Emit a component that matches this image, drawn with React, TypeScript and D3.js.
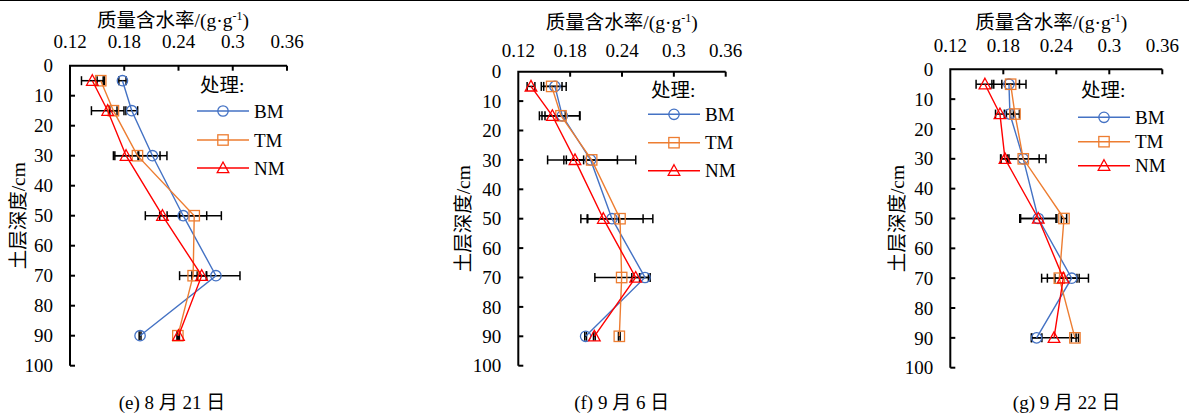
import * as d3 from "d3";

const depths = [5, 15, 30, 50, 70, 90];
const yTicks = [0, 10, 20, 30, 40, 50, 60, 70, 80, 90, 100];
const xTicks = [0.12, 0.18, 0.24, 0.3, 0.36];
const seriesNames = ["BM", "TM", "NM"];
const seriesColors = ["#4472C4", "#ED7D31", "#FF0000"];

// (e) 8月21日
const bmE = [0.178, 0.1883, 0.2112, 0.2452, 0.2814, 0.1975];
const tmE = [0.154, 0.168, 0.1946, 0.2574, 0.2562, 0.2393];
const nmE = [0.1447, 0.1617, 0.182, 0.2223, 0.2657, 0.24];
const bmErrE = [0.004, 0.0065, 0.016, 0.026, 0.0266, 0.001];
const tmErrE = [0.004, 0.004, 0.025, 0.03, 0.015, 0.001];
const nmErrE = [0.012, 0.018, 0.014, 0.019, 0.005, 0.001];

// (f) 9月6日
const bmF = [0.1624, 0.1709, 0.2037, 0.2284, 0.2666, 0.1979];
const tmF = [0.1586, 0.1694, 0.2049, 0.2377, 0.2396, 0.2369];
const nmF = [0.1347, 0.1594, 0.1856, 0.2184, 0.2558, 0.208];
const bmErrF = [0.013, 0.02, 0.031, 0.036, 0.006, 0.001];
const tmErrF = [0.012, 0.022, 0.051, 0.038, 0.031, 0.001];
const nmErrF = [0.0045, 0.015, 0.01, 0.018, 0.0045, 0.001];

// (g) 9月22日
const bmG = [0.1864, 0.1875, 0.2026, 0.2196, 0.2574, 0.2177];
const tmG = [0.1883, 0.1932, 0.2026, 0.2487, 0.2434, 0.2611];
const nmG = [0.1592, 0.1762, 0.1819, 0.2196, 0.2479, 0.2374];
const bmErrG = [0.0193, 0.004, 0.0257, 0.021, 0.019, 0.006];
const tmErrG = [0.01, 0.005, 0.018, 0.003, 0.02, 0.004];
const nmErrG = [0.01, 0.005, 0.0045, 0.02, 0.018, 0.025];

const serif = "'Liberation Serif', 'Times New Roman', 'Noto Sans CJK SC', serif";

const panels = [
  {
    caption: "(e) 8 月 21 日",
    left: 70, top: 65.7, width: 217, height: 300,
    titleX: 173, titleY: 20, tickY: 41.7, yTitleX: 18, captionX: 172,
    legX: 197, legHeadY: 85, legY: [111, 140, 168],
    values: [bmE, tmE, nmE], errors: [bmErrE, tmErrE, nmErrE],
  },
  {
    caption: "(f) 9 月 6 日",
    left: 518.3, top: 71.7, width: 207.4, height: 294,
    titleX: 621.7, titleY: 21.7, tickY: 50, yTitleX: 463, captionX: 621.7,
    legX: 648, legHeadY: 90, legY: [114.3, 142.7, 170.7],
    values: [bmF, tmF, nmF], errors: [bmErrF, tmErrF, nmErrF],
  },
  {
    caption: "(g) 9 月 22 日",
    left: 950.3, top: 69.3, width: 212, height: 298.4,
    titleX: 1051.3, titleY: 21.7, tickY: 45.7, yTitleX: 896.7, captionX: 1066.7,
    legX: 1078, legHeadY: 90, legY: [117.3, 141.7, 165.7],
    values: [bmG, tmG, nmG], errors: [bmErrG, tmErrG, nmErrG],
  },
];

const Marker = ({ i, x, y, color }) => {
  if (i === 0) return <circle cx={x} cy={y} r={5.2} fill="none" stroke={color} strokeWidth={1.3} />;
  if (i === 1)
    return <rect x={x - 5.2} y={y - 5.2} width={10.4} height={10.4} fill="none" stroke={color} strokeWidth={1.3} />;
  return (
    <path
      d={`M${x},${y - 6}L${x + 5.8},${y + 4.6}L${x - 5.8},${y + 4.6}Z`}
      fill="none"
      stroke={color}
      strokeWidth={1.3}
    />
  );
};

const Panel = ({ p }) => {
  const x = d3.scaleLinear().domain([0.12, 0.36]).range([p.left, p.left + p.width]);
  const y = d3.scaleLinear().domain([0, 100]).range([p.top, p.top + p.height]);
  const line = d3
    .line<number>()
    .x((d) => x(d))
    .y((_, i) => y(depths[i]));

  return (
    <g>
      {/* title */}
      <text x={p.titleX} y={p.titleY} dy="0.35em" textAnchor="middle" fontSize={19.5}>
        质量含水率/(g·g<tspan dy="-7" fontSize={12}>-1</tspan>
        <tspan dy="7">)</tspan>
      </text>
      {/* x ticks */}
      {xTicks.map((t) => (
        <g key={t}>
          <text x={x(t)} y={p.tickY} dy="0.35em" textAnchor="middle" fontSize={19}>
            {t}
          </text>
          {t > 0.12 && <line x1={x(t)} x2={x(t)} y1={p.top} y2={p.top + 5} stroke="#000" strokeWidth={2} />}
        </g>
      ))}
      {/* y ticks */}
      {yTicks.map((t) => (
        <g key={t}>
          <text x={p.left - 17} y={y(t)} dy="0.35em" textAnchor="end" fontSize={19}>
            {t}
          </text>
          {t > 0 && <line x1={p.left} x2={p.left + 5} y1={y(t)} y2={y(t)} stroke="#000" strokeWidth={2} />}
        </g>
      ))}
      <path
        d={`M${p.left},${y(100)}V${p.top}H${p.left + p.width}`}
        fill="none"
        stroke="#000"
        strokeWidth={2}
      />
      <text
        transform={`translate(${p.yTitleX},${p.top + p.height / 2}) rotate(-90)`}
        dy="0.35em"
        textAnchor="middle"
        fontSize={19.5}
      >
        土层深度/cm
      </text>
      {/* error bars */}
      {p.values.map((vals, si) =>
        vals.map((v, i) => {
          const e = p.errors[si][i];
          const yy = y(depths[i]);
          return (
            <g key={`e${si}-${i}`} stroke="#000" strokeWidth={1.5}>
              <line x1={x(v - e)} x2={x(v + e)} y1={yy} y2={yy} />
              <line x1={x(v - e)} x2={x(v - e)} y1={yy - 4.5} y2={yy + 4.5} />
              <line x1={x(v + e)} x2={x(v + e)} y1={yy - 4.5} y2={yy + 4.5} />
            </g>
          );
        })
      )}
      {/* series */}
      {p.values.map((vals, si) => (
        <g key={`s${si}`}>
          <path d={line(vals) || ""} fill="none" stroke={seriesColors[si]} strokeWidth={1.4} />
          {vals.map((v, i) => (
            <Marker key={i} i={si} x={x(v)} y={y(depths[i])} color={seriesColors[si]} />
          ))}
        </g>
      ))}
      {/* legend */}
      <text x={p.legX + 3} y={p.legHeadY} dy="0.35em" fontSize={19.5}>
        处理:
      </text>
      {seriesNames.map((n, si) => (
        <g key={n}>
          <line
            x1={p.legX}
            x2={p.legX + 52}
            y1={p.legY[si]}
            y2={p.legY[si]}
            stroke={seriesColors[si]}
            strokeWidth={1.4}
          />
          <Marker i={si} x={p.legX + 26} y={p.legY[si]} color={seriesColors[si]} />
          <text x={p.legX + 57} y={p.legY[si]} dy="0.35em" fontSize={19}>
            {n}
          </text>
        </g>
      ))}
      <text x={p.captionX} y={402} dy="0.35em" textAnchor="middle" fontSize={19}>
        {p.caption}
      </text>
    </g>
  );
};

export default function App() {
  return (
    <div style={{ position: "absolute", left: 0, top: 0 }}>
      <svg width={1189} height={418} style={{ display: "block", background: "#fff" }} fontFamily={serif}>
        <line x1={0} x2={1189} y1={0.5} y2={0.5} stroke="#000" strokeWidth={1} />
        {panels.map((p) => (
          <Panel key={p.caption} p={p} />
        ))}
      </svg>
    </div>
  );
}
